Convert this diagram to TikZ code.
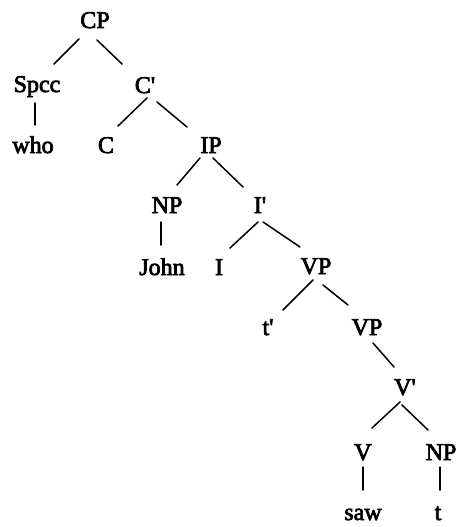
\documentclass[tikz,border=0pt]{standalone}
\usepackage{fontspec}
\setmainfont{Liberation Serif}
\newfontfamily\treefont{Liberation Serif}[FakeBold=3]
\begin{document}
\begin{tikzpicture}[x=1pt,y=-1pt,
  lbl/.style={anchor=base,inner sep=0pt,font=\fontsize{24}{24}\treefont},
  edge/.style={line width=1.5pt,line cap=round}]
\useasboundingbox (0,0) rectangle (456,527);
\node[lbl] (CP)   at (95,28)  {CP};
\node[lbl] (Spec) at (37,92)  {Spcc};
\node[lbl] (who)  at (33,153) {who};
\node[lbl] (Cb)   at (145,93) {C\textquotesingle};
\node[lbl] (C)    at (106,153) {C};
\node[lbl] (IP)   at (211,153) {IP};
\node[lbl] (NP)   at (167,213) {NP};
\node[lbl] (Ib)   at (260,213) {I\textquotesingle};
\node[lbl] (John) at (162,275) {John};
\node[lbl] (I)    at (219,275) {I};
\node[lbl] (VP)   at (316,274) {VP};
\node[lbl] (tp)   at (268,335) {t\textquotesingle};
\node[lbl] (VPb)  at (367,335) {VP};
\node[lbl] (Vb)   at (405,395) {V\textquotesingle};
\node[lbl] (V)    at (363,460) {V};
\node[lbl] (NPb)  at (441,460) {NP};
\node[lbl] (saw)  at (363,520) {saw};
\node[lbl] (t)    at (438,520) {t};

\draw[edge] ([shift={(-16,11)}]CP.base) -- ([shift={(17,-28)}]Spec.base);
\draw[edge] ([shift={(2,12)}]CP.base) -- ([shift={(-23,-29)}]Cb.base);
\draw[edge] ([shift={(-2,11)}]Spec.base) -- ([shift={(2,-28)}]who.base);
\draw[edge] ([shift={(2,5)}]Cb.base) -- ([shift={(12,-27)}]C.base);
\draw[edge] ([shift={(12,9)}]Cb.base) -- ([shift={(-24,-26)}]IP.base);
\draw[edge] ([shift={(-11,5)}]IP.base) -- ([shift={(10,-28)}]NP.base);
\draw[edge] ([shift={(2,5)}]IP.base) -- ([shift={(-17,-26)}]Ib.base);
\draw[edge] ([shift={(-6,9)}]NP.base) -- ([shift={(-1,-30)}]John.base);
\draw[edge] ([shift={(-2,9)}]Ib.base) -- ([shift={(11,-27)}]I.base);
\draw[edge] ([shift={(3,9)}]Ib.base) -- ([shift={(-16,-27)}]VP.base);
\draw[edge] ([shift={(-3,6)}]VP.base) -- ([shift={(15,-25)}]tp.base);
\draw[edge] ([shift={(7,11)}]VP.base) -- ([shift={(-19,-30)}]VPb.base);
\draw[edge] ([shift={(6,8)}]VPb.base) -- ([shift={(-11,-28)}]Vb.base);
\draw[edge] ([shift={(-5,7)}]Vb.base) -- ([shift={(9,-32)}]V.base);
\draw[edge] ([shift={(-3,10)}]Vb.base) -- ([shift={(-13,-30)}]NPb.base);
\draw[edge] ([shift={(0,7)}]V.base) -- ([shift={(0,-30)}]saw.base);
\draw[edge] ([shift={(-1,7)}]NPb.base) -- ([shift={(2,-30)}]t.base);
\end{tikzpicture}
\end{document}
